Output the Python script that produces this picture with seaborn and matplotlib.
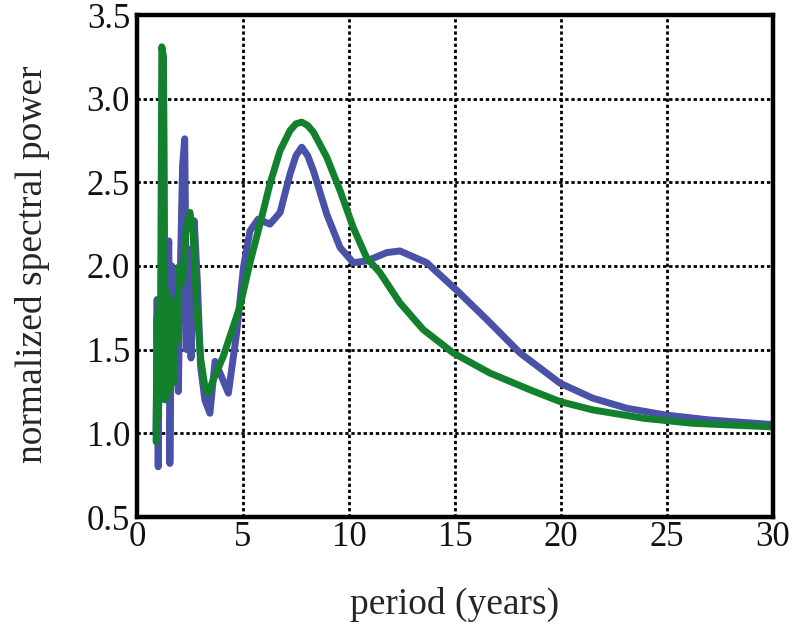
import matplotlib
matplotlib.use("Agg")
import matplotlib.pyplot as plt
import seaborn as sns
import pandas as pd

blue_period = [0.90, 0.95, 1.00, 1.05, 1.10, 1.18, 1.25, 1.32, 1.40, 1.50, 1.55, 1.65, 1.75, 1.85,
               1.95, 2.05, 2.15, 2.25, 2.35, 2.45, 2.55, 2.70, 2.85, 3.00, 3.20, 3.44, 3.68,
               3.95, 4.31, 4.70, 5.02, 5.33, 5.72, 6.27, 6.75, 7.22, 7.50, 7.77, 8.05, 8.32,
               8.95, 9.58, 10.20, 10.83, 11.78, 12.40, 13.66, 15.08, 16.50, 18.07, 19.95,
               21.50, 23.10, 24.90, 27.00, 29.70, 30.00]
blue_power = [1.00, 1.80, 0.80, 1.60, 1.20, 2.40, 3.10, 1.40, 1.90, 2.15, 0.82, 2.00, 1.50, 1.90,
              1.25, 2.00, 2.60, 2.76, 1.50, 2.10, 1.45, 2.27, 1.90, 1.40, 1.20, 1.12, 1.43,
              1.35, 1.24, 1.60, 1.99, 2.21, 2.28, 2.25, 2.32, 2.55, 2.66, 2.71, 2.66, 2.57,
              2.31, 2.11, 2.02, 2.03, 2.08, 2.09, 2.02, 1.855, 1.68, 1.48, 1.30,
              1.21, 1.15, 1.11, 1.08, 1.055, 1.053]

green_period = [0.90, 0.95, 1.00, 1.05, 1.10, 1.17, 1.25, 1.32, 1.40, 1.50, 1.60, 1.70, 1.80,
                1.90, 2.00, 2.15, 2.30, 2.50, 2.65, 2.80, 3.00, 3.20, 3.36, 3.60, 4.07, 4.86,
                5.33, 5.80, 6.27, 6.75, 7.22, 7.50, 7.77, 8.05, 8.32, 8.95, 9.58, 10.20,
                10.83, 11.46, 12.40, 13.50, 14.92, 16.65, 18.54, 19.95, 21.50, 23.90, 26.20,
                29.70, 30.00]
green_power = [0.95, 1.70, 1.10, 1.80, 1.30, 3.31, 3.25, 1.20, 1.85, 1.25, 1.80, 1.30, 1.75,
               1.55, 2.00, 1.90, 2.20, 2.32, 2.20, 1.80, 1.45, 1.28, 1.24, 1.32, 1.46, 1.76,
               2.02, 2.25, 2.49, 2.69, 2.81, 2.85, 2.86, 2.84, 2.80, 2.65, 2.45, 2.23,
               2.05, 1.96, 1.78, 1.62, 1.48, 1.36, 1.26, 1.19, 1.14, 1.09, 1.06,
               1.04, 1.038]

x_ticks = [0, 5, 10, 15, 20, 25, 30]
y_ticks = [0.5, 1.0, 1.5, 2.0, 2.5, 3.0, 3.5]
y_tick_labels = ["0.5", "1.0", "1.5", "2.0", "2.5", "3.0", "3.5"]

sns.set_style("white")
plt.rcParams['font.family'] = ['Liberation Serif', 'DejaVu Serif']

fig = plt.figure(figsize=(7.99, 6.27), dpi=100)
ax = fig.add_axes([137/799, 1 - 517/627, (773 - 137)/799, (517 - 15)/627])

df_b = pd.DataFrame({"period": blue_period, "power": blue_power})
df_g = pd.DataFrame({"period": green_period, "power": green_power})

ax.grid(True, color="black", linestyle=(0, (1.2, 1.0)), linewidth=2.0)
ax.set_axisbelow(True)

for df, col in [(df_b, "#4a52a8"), (df_g, "#13802d")]:
    sns.lineplot(data=df, x="period", y="power", ax=ax, color=col, linewidth=5.0,
                 sort=False, estimator=None, solid_joinstyle="round", solid_capstyle="round")

ax.set_xlim(0, 30)
ax.set_ylim(0.5, 3.5)
ax.set_xticks(x_ticks)
ax.set_yticks(y_ticks)
ax.set_yticklabels(y_tick_labels)
ax.tick_params(axis="both", length=0, labelsize=25, colors="#111111")
ax.tick_params(axis="y", pad=5)
ax.tick_params(axis="x", pad=3)
ax.set_xlabel("period (years)", fontsize=27)
ax.set_ylabel("normalized spectral power", fontsize=27)
ax.xaxis.set_label_coords(0.5, -0.14)
ax.yaxis.set_label_coords(-0.137, 0.504)

for s in ax.spines.values():
    s.set_visible(True)
    s.set_color("black")
    s.set_linewidth(3.2)

fig.savefig("out.png", dpi=100)
